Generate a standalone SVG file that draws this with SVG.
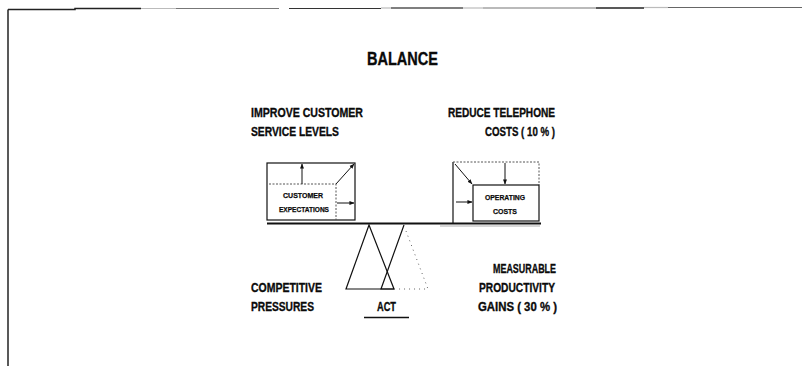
<svg xmlns="http://www.w3.org/2000/svg" width="802" height="366" viewBox="0 0 802 366">
  <defs>
    <marker id="head" viewBox="0 0 6 6" refX="5.5" refY="3" markerWidth="5" markerHeight="5" orient="auto" markerUnits="userSpaceOnUse">
      <path d="M0,0.6 L6,3 L0,5.4 Z" fill="#111"/>
    </marker>
  </defs>
  <style>
    text { font-family: "Liberation Sans", Arial, sans-serif; font-weight: bold; fill: #0a0a0a; stroke: #0a0a0a; stroke-width: 0.35; }
    .lbl { font-size: 13.5px; }
    .tiny { font-size: 7.5px; stroke-width: 0.25; }
    .ln { stroke: #111; stroke-width: 1.2; fill: none; }
    .dash { stroke: #555; stroke-width: 1; stroke-dasharray: 2 1.5; fill: none; }
    .dot { stroke: #666; stroke-width: 1; stroke-dasharray: 1 4; fill: none; }
    .arr { stroke: #111; stroke-width: 1; fill: none; marker-end: url(#head); }
  </style>
  <rect width="802" height="366" fill="#fff"/>

  <!-- page frame -->
  <g id="frame" fill="none">
    <line x1="8" y1="9.5" x2="8" y2="366" stroke="#222" stroke-width="1.5"/>
    <polyline points="8,9.5 75,9.5 75,8.5 141,8.5" stroke="#222" stroke-width="1.5"/>
    <line x1="141" y1="8.5" x2="176" y2="8.5" stroke="#bbb" stroke-width="1.2"/>
    <line x1="176" y1="8.5" x2="279" y2="8.5" stroke="#777" stroke-width="1.2"/>
    <line x1="289" y1="8.5" x2="381" y2="8.5" stroke="#333" stroke-width="1.2"/>
    <line x1="381" y1="8" x2="391" y2="8" stroke="#bbb" stroke-width="1.2"/>
    <line x1="391" y1="8" x2="463" y2="8" stroke="#555" stroke-width="1.3"/>
    <line x1="463" y1="8" x2="483" y2="8" stroke="#bbb" stroke-width="1.2"/>
    <line x1="483" y1="8" x2="596" y2="8" stroke="#777" stroke-width="1.2"/>
    <line x1="596" y1="8" x2="644" y2="8" stroke="#222" stroke-width="1.5"/>
    <line x1="644" y1="7.5" x2="668" y2="7.5" stroke="#bbb" stroke-width="1.2"/>
    <line x1="668" y1="7.5" x2="802" y2="7.5" stroke="#666" stroke-width="1.2"/>
  </g>

  <g id="title">
    <text x="367" y="65" font-size="18.5" textLength="71" lengthAdjust="spacingAndGlyphs">BALANCE</text>
  </g>

  <g id="goal-service">
    <text class="lbl" x="251" y="117" textLength="112" lengthAdjust="spacingAndGlyphs">IMPROVE CUSTOMER</text>
    <text class="lbl" x="251" y="136" textLength="88" lengthAdjust="spacingAndGlyphs">SERVICE LEVELS</text>
  </g>

  <g id="goal-costs">
    <text class="lbl" x="448" y="117" textLength="107" lengthAdjust="spacingAndGlyphs">REDUCE TELEPHONE</text>
    <text class="lbl" x="485" y="136" textLength="70" lengthAdjust="spacingAndGlyphs">COSTS ( 10 % )</text>
  </g>

  <!-- left pan -->
  <g id="customer-expectations">
    <rect class="ln" x="267" y="163" width="88" height="57"/>
    <polyline class="dash" points="269,184 336,184 336,220"/>
    <text class="tiny" x="283" y="198" textLength="40" lengthAdjust="spacingAndGlyphs">CUSTOMER</text>
    <text class="tiny" x="279" y="211.5" textLength="50" lengthAdjust="spacingAndGlyphs">EXPECTATIONS</text>
  </g>

  <!-- right pan -->
  <g id="operating-costs">
    <line class="ln" x1="453" y1="162" x2="453" y2="223"/>
    <polyline class="dash" points="453,162 539,162 539,185"/>
    <rect class="ln" x="473" y="185" width="66" height="36"/>
    <text class="tiny" x="485" y="200" textLength="40" lengthAdjust="spacingAndGlyphs">OPERATING</text>
    <text class="tiny" x="493" y="214" textLength="24" lengthAdjust="spacingAndGlyphs">COSTS</text>
  </g>

  <!-- beam and fulcrum -->
  <g id="beam">
    <line x1="267" y1="223.5" x2="541" y2="223.5" stroke="#111" stroke-width="2.2"/>
    <line x1="440" y1="226" x2="540" y2="226" stroke="#999" stroke-width="0.8"/>
  </g>

  <g id="fulcrum">
    <polygon class="ln" points="369,225 346,289 394,289"/>
    <polyline class="ln" points="404,225 381,289 394,289"/>
    <polyline class="dot" points="406,231 428,289 394,289"/>
  </g>

  <g id="act">
    <text class="lbl" x="377" y="311" textLength="19" lengthAdjust="spacingAndGlyphs">ACT</text>
    <line x1="364" y1="317.5" x2="409" y2="317.5" stroke="#111" stroke-width="1.3"/>
  </g>

  <g id="competitive-pressures">
    <text class="lbl" x="251" y="292" textLength="71" lengthAdjust="spacingAndGlyphs">COMPETITIVE</text>
    <text class="lbl" x="251" y="311" textLength="63" lengthAdjust="spacingAndGlyphs">PRESSURES</text>
  </g>

  <g id="productivity-gains">
    <text class="lbl" x="493" y="273" textLength="63" lengthAdjust="spacingAndGlyphs">MEASURABLE</text>
    <text class="lbl" x="479" y="292" textLength="76" lengthAdjust="spacingAndGlyphs">PRODUCTIVITY</text>
    <text class="lbl" x="478" y="311" textLength="79" lengthAdjust="spacingAndGlyphs">GAINS ( 30 % )</text>
  </g>

  <!-- flow arrows inside the pans -->
  <g id="connectors">
    <line class="arr" x1="302" y1="184" x2="302" y2="164"/>
    <line class="arr" x1="336" y1="184" x2="354" y2="164"/>
    <line class="arr" x1="337" y1="203" x2="354" y2="203"/>
    <line class="arr" x1="455" y1="164" x2="472" y2="184"/>
    <line class="arr" x1="505" y1="163" x2="505" y2="184"/>
    <line class="arr" x1="456" y1="202" x2="472" y2="202"/>
  </g>
</svg>
